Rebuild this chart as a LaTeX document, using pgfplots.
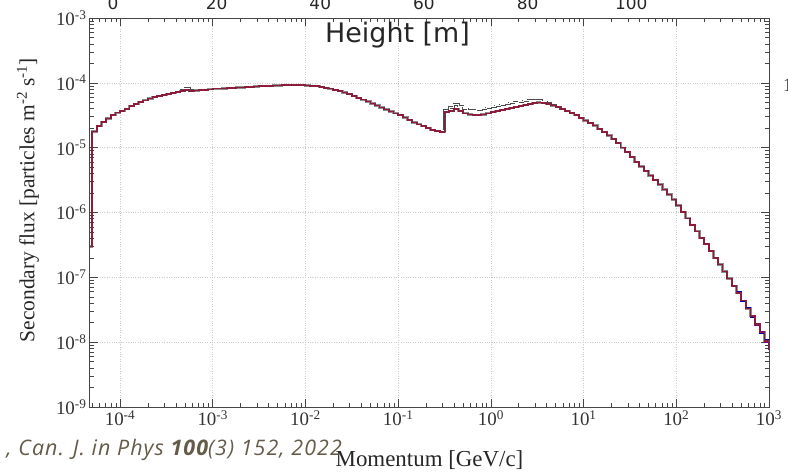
\documentclass[border=0pt]{standalone}
\usepackage{pgfplots}
\pgfplotsset{compat=1.18}
\usepackage{pgfplotstable}
\usepackage{fontspec}
\setmainfont{Liberation Serif}
\newfontfamily\dejavu{DejaVu Sans}
\newfontfamily\citefont[LetterSpace=5]{Open Sans}
\definecolor{maroon}{RGB}{140,28,58}
\definecolor{citecol}{RGB}{100,92,72}
\definecolor{axgray}{RGB}{70,70,70}

\pgfplotstableread{
x y
4.75e-5 3.0e-7
5.012e-5 1.778e-5
5.623e-5 2.138e-5
6.310e-5 2.512e-5
7.079e-5 2.818e-5
7.943e-5 3.162e-5
8.913e-5 3.467e-5
1.000e-4 3.715e-5
1.122e-4 3.981e-5
1.259e-4 4.365e-5
1.413e-4 4.677e-5
1.585e-4 5.012e-5
1.778e-4 5.370e-5
1.995e-4 5.754e-5
2.239e-4 6.026e-5
2.512e-4 6.310e-5
2.818e-4 6.531e-5
3.162e-4 6.761e-5
3.548e-4 6.998e-5
3.981e-4 7.244e-5
4.467e-4 7.499e-5
5.012e-4 7.762e-5
5.623e-4 7.499e-5
6.310e-4 7.586e-5
7.079e-4 7.674e-5
7.943e-4 7.762e-5
8.913e-4 7.943e-5
1.000e-3 8.128e-5
1.122e-3 8.128e-5
1.259e-3 8.222e-5
1.413e-3 8.318e-5
1.585e-3 8.414e-5
1.778e-3 8.511e-5
1.995e-3 8.511e-5
2.239e-3 8.610e-5
2.512e-3 8.710e-5
2.818e-3 8.810e-5
3.162e-3 8.913e-5
3.548e-3 8.913e-5
3.981e-3 9.016e-5
4.467e-3 9.120e-5
5.012e-3 9.120e-5
5.623e-3 9.226e-5
6.310e-3 9.333e-5
7.079e-3 9.333e-5
7.943e-3 9.333e-5
8.913e-3 9.226e-5
1.000e-2 9.120e-5
1.122e-2 9.016e-5
1.259e-2 8.913e-5
1.413e-2 8.710e-5
1.585e-2 8.414e-5
1.778e-2 8.128e-5
1.995e-2 7.762e-5
2.239e-2 7.413e-5
2.512e-2 7.079e-5
2.818e-2 6.683e-5
3.162e-2 6.310e-5
3.548e-2 5.888e-5
3.981e-2 5.495e-5
4.467e-2 5.129e-5
5.012e-2 4.786e-5
5.623e-2 4.467e-5
6.310e-2 4.169e-5
7.079e-2 3.890e-5
7.943e-2 3.631e-5
8.913e-2 3.388e-5
0.1000 3.162e-5
0.1122 2.917e-5
0.1259 2.692e-5
0.1413 2.455e-5
0.1585 2.291e-5
0.1778 2.138e-5
0.1995 1.995e-5
0.2239 1.862e-5
0.2512 1.799e-5
0.2818 1.738e-5
0.3162 3.548e-5
0.3548 3.715e-5
0.3981 3.981e-5
0.4467 3.715e-5
0.5012 3.388e-5
0.5623 3.236e-5
0.6310 3.162e-5
0.7079 3.162e-5
0.7943 3.236e-5
0.8913 3.388e-5
1.000 3.548e-5
1.122 3.715e-5
1.259 3.846e-5
1.413 3.981e-5
1.585 4.121e-5
1.778 4.266e-5
1.995 4.416e-5
2.239 4.571e-5
2.512 4.732e-5
2.818 4.898e-5
3.162 4.955e-5
3.548 4.898e-5
3.981 4.677e-5
4.467 4.467e-5
5.012 4.266e-5
5.623 3.981e-5
6.310 3.715e-5
7.079 3.428e-5
7.943 3.162e-5
8.913 2.884e-5
10.00 2.630e-5
11.22 2.399e-5
12.59 2.188e-5
14.13 1.950e-5
15.85 1.738e-5
17.78 1.549e-5
19.95 1.349e-5
22.39 1.175e-5
25.12 1.000e-5
28.18 8.511e-6
31.62 7.161e-6
35.48 6.026e-6
39.81 5.129e-6
44.67 4.365e-6
50.12 3.715e-6
56.23 3.162e-6
63.10 2.692e-6
70.79 2.265e-6
79.43 1.905e-6
89.13 1.585e-6
100.0 1.288e-6
112.2 1.023e-6
125.9 8.128e-7
141.3 6.457e-7
158.5 5.129e-7
177.8 4.074e-7
199.5 3.236e-7
223.9 2.570e-7
251.2 1.995e-7
281.8 1.585e-7
316.2 1.230e-7
354.8 9.550e-8
398.1 7.413e-8
446.7 5.754e-8
501.2 4.365e-8
562.3 3.311e-8
631.0 2.512e-8
707.9 1.905e-8
794.3 1.413e-8
891.3 1.047e-8
1000 7.943e-9
}\redtab

\pgfplotstableread{
x y
0.2818 1.820e-5
0.3162 3.802e-5
0.3548 4.169e-5
0.3981 4.624e-5
0.4467 4.365e-5
0.5012 3.981e-5
0.5623 3.802e-5
0.6310 3.802e-5
0.7079 3.846e-5
0.7943 3.981e-5
0.8913 4.121e-5
1.000 4.266e-5
1.122 4.416e-5
1.259 4.571e-5
1.413 4.732e-5
1.585 4.898e-5
1.778 5.012e-5
1.995 5.129e-5
2.239 5.248e-5
2.512 5.370e-5
2.818 5.433e-5
3.162 5.370e-5
3.548 5.129e-5
3.981 4.842e-5
4.467 4.519e-5
5.012 4.266e-5
5.623 3.981e-5
6.310 3.715e-5
}\blacktab

\pgfplotstableread{
x y
4.467e-4 7.60e-5
5.012e-4 8.30e-5
5.623e-4 7.60e-5
6.310e-4 7.60e-5
}\glitchtab

\pgfplotstableread{
x y
446.7 5.9e-8
501.2 4.2e-8
562.3 3.4e-8
631.0 2.45e-8
707.9 1.95e-8
794.3 1.35e-8
891.3 1.10e-8
1000 8.5e-9
}\bluetab

\pgfplotstableread{
x y
631.0 2.55e-8
707.9 1.85e-8
794.3 1.45e-8
891.3 9.8e-9
1000 7.5e-9
}\purpletab

\begin{document}
\begin{tikzpicture}
\begin{axis}[
  at={(90bp,69bp)}, anchor=south west,
  scale only axis, width=679bp, height=389bp,
  xmode=log, ymode=log,
  xmin=4.74e-5, xmax=1000, ymin=1e-9, ymax=1e-3,
  xtick={1e-4,1e-3,1e-2,1e-1,1,10,100,1000},
  xticklabels={10\textsuperscript{-4},10\textsuperscript{-3},10\textsuperscript{-2},10\textsuperscript{-1},10\textsuperscript{0},10\textsuperscript{1},10\textsuperscript{2},10\textsuperscript{3}},
  ytick={1e-9,1e-8,1e-7,1e-6,1e-5,1e-4,1e-3},
  yticklabels={10\textsuperscript{-9},10\textsuperscript{-8},10\textsuperscript{-7},10\textsuperscript{-6},10\textsuperscript{-5},10\textsuperscript{-4},10\textsuperscript{-3}},
  minor xtick={5e-5,6e-5,7e-5,8e-5,9e-5,
    2e-4,3e-4,4e-4,5e-4,6e-4,7e-4,8e-4,9e-4,
    2e-3,3e-3,4e-3,5e-3,6e-3,7e-3,8e-3,9e-3,
    2e-2,3e-2,4e-2,5e-2,6e-2,7e-2,8e-2,9e-2,
    0.2,0.3,0.4,0.5,0.6,0.7,0.8,0.9,
    2,3,4,5,6,7,8,9,
    20,30,40,50,60,70,80,90,
    200,300,400,500,600,700,800,900},
  minor ytick={2e-9,3e-9,4e-9,5e-9,6e-9,7e-9,8e-9,9e-9,
    2e-8,3e-8,4e-8,5e-8,6e-8,7e-8,8e-8,9e-8,
    2e-7,3e-7,4e-7,5e-7,6e-7,7e-7,8e-7,9e-7,
    2e-6,3e-6,4e-6,5e-6,6e-6,7e-6,8e-6,9e-6,
    2e-5,3e-5,4e-5,5e-5,6e-5,7e-5,8e-5,9e-5,
    2e-4,3e-4,4e-4,5e-4,6e-4,7e-4,8e-4,9e-4},
  tick align=inside,
  major tick length=8bp, minor tick length=4bp,
  every tick/.style={axgray, line width=0.6bp},
  axis line style={axgray, line width=1bp},
  xmajorgrids, ymajorgrids,
  major grid style={dotted, gray!40, line width=0.6bp},
  tick label style={font=\fontsize{19}{20}\selectfont, text=black!80},
  xlabel={Momentum [GeV/c]},
  xlabel style={font=\fontsize{23}{24}\selectfont, at={(axis description cs:0.5,0)}, anchor=base, yshift=-59bp, text=black!85},
  ylabel={Secondary flux [particles m\textsuperscript{-2} s\textsuperscript{-1}]},
  ylabel style={font=\fontsize{21.5}{23}\selectfont, at={(axis description cs:-0.0913,0.532)}, anchor=center, text=black!85},
]
\addplot[const plot, draw=black!45, line width=2.3bp] table {\redtab};
\addplot[const plot, draw=black!70, double=white, double distance=1bp, line width=0.6bp] table {\blacktab};
\addplot[const plot, draw=black!70, double=white, double distance=1bp, line width=0.6bp] table {\glitchtab};
\addplot[const plot, draw=blue!70!black, line width=1.4bp] table {\bluetab};
\addplot[const plot, draw=violet, line width=1.4bp] table {\purpletab};
\addplot[const plot, draw=maroon, line width=1.6bp] table {\redtab};
\end{axis}
\begin{axis}[
  at={(90bp,69bp)}, anchor=south west,
  scale only axis, width=679bp, height=389bp,
  xmin=-4.44, xmax=126.6, ymin=0, ymax=1,
  axis x line*=top, hide y axis,
  axis line style={draw=none},
  xtick={0,20,40,60,80,100},
  xticklabels={0,20,40,60,80,100},
  major tick length=0pt,
  xticklabel style={font=\dejavu\fontsize{17}{18}\selectfont, anchor=base, yshift=8bp, text=black!85},
]
\addplot[draw=none] coordinates {(0,0.5) (100,0.5)};
\end{axis}
\node[anchor=base west, font=\dejavu\fontsize{27}{28}\selectfont, text=black!85, inner sep=0] at (325bp,433bp) {Height [m]};
\node[anchor=base east, font=\citefont\itshape\fontsize{21.5}{22}\selectfont, text=citecol, inner sep=0] at (342bp,21bp) {, Can. J. in Phys \textbf{100}(3) 152, 2022};
\node[anchor=base west, font=\fontsize{19}{20}\selectfont, text=black!80, inner sep=0] at (783bp,384bp) {1};
\pgfresetboundingbox
\path[use as bounding box] (0,0) rectangle (788bp,476bp);
\end{tikzpicture}
\end{document}
